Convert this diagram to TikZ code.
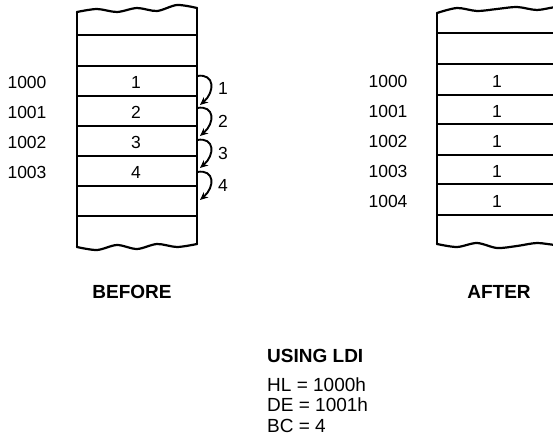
\documentclass[tikz,border=0pt]{standalone}
\usepackage{fontspec}
\setmainfont{Liberation Sans}
\usetikzlibrary{arrows.meta,calc}
\begin{document}
\begin{tikzpicture}[x=1pt,y=-1pt,
  boxline/.style={line width=2.2pt, line join=round, line cap=round},
  rowline/.style={line width=1.8pt},
  lbl/.style={font=\fontsize{17.5}{20}\selectfont, inner sep=0pt},
  ttl/.style={font=\fontsize{19}{22}\selectfont\bfseries, inner sep=0pt},
  reg/.style={font=\fontsize{19}{21}\selectfont, inner sep=0pt, anchor=base west},
  mv/.style={line width=1.9pt, -{Stealth[length=8pt,width=7pt]}}]
\useasboundingbox (0,0) rectangle (553,435);
\clip (0,0) rectangle (553,435);
% ---- left (BEFORE) memory box
\draw[boxline] plot[smooth] coordinates {(77,12)(97,9)(117,12)(137,8)(157,11)(177,5)(197,8)};
\draw[boxline] plot[smooth] coordinates {(77,247)(97,250)(117,245)(137,249)(157,244)(177,247)(197,244)};
\draw[boxline] (77,12) -- (77,247);
\draw[boxline] (197,8) -- (197,244);
\foreach \y in {35,66,96,126,156,186,216} \draw[rowline] (77,\y) -- (197,\y);
% ---- right (AFTER) memory box
\draw[boxline] plot[smooth] coordinates {(437,13)(457,8)(477,11)(497,9)(517,7)(537,10)(557,7)(577,9)};
\draw[boxline] plot[smooth] coordinates {(437,244)(457,247)(477,243)(497,248)(517,246)(537,243)(557,245)(577,243)};
\draw[boxline] (437,13) -- (437,244);
\draw[boxline] (557,8) -- (557,244);
\foreach \y in {33,64,95,124,155,184,215} \draw[rowline] (437,\y) -- (557,\y);
% ---- left labels and values
\node[lbl] (la0) at (27,82) {1000};
\node[lbl] (la1) at (27,112) {1001};
\node[lbl] (la2) at (27,142) {1002};
\node[lbl] (la3) at (27,172) {1003};
\node[lbl] (lv0) at (136,82) {1};
\node[lbl] (lv1) at (136,112) {2};
\node[lbl] (lv2) at (136,142) {3};
\node[lbl] (lv3) at (136,172) {4};
% ---- move arrows
\coordinate (s1) at (197,76);  \coordinate (e1) at (200,105);
\coordinate (s2) at (197,108); \coordinate (e2) at (200,136);
\coordinate (s3) at (197,140); \coordinate (e3) at (200,168);
\coordinate (s4) at (197,172); \coordinate (e4) at (200,200);
\foreach \i in {1,2,3,4} {
  \draw[mv] (s\i) .. controls ($(s\i)+(18,-3)$) and ($(e\i)+(15,-13)$) .. (e\i);
}
\node[lbl] (n1) at (223,88) {1};
\node[lbl] (n2) at (223,121) {2};
\node[lbl] (n3) at (223,153) {3};
\node[lbl] (n4) at (223,185) {4};
% ---- right labels and values
\node[lbl] (ra0) at (388,81) {1000};
\node[lbl] (ra1) at (388,111) {1001};
\node[lbl] (ra2) at (388,141) {1002};
\node[lbl] (ra3) at (388,171) {1003};
\node[lbl] (ra4) at (388,201) {1004};
\foreach \y/\n in {81/0,111/1,141/2,171/3,201/4} \node[lbl] (rv\n) at (497,\y) {1};
% ---- titles
\node[ttl] (before) at (132,292) {BEFORE};
\node[ttl] (after) at (499,292) {AFTER};
% ---- register block
\node[ttl, anchor=base west] (using) at (267,362) {USING LDI};
\node[reg] (hl) at (267,391.5) {HL = 1000h};
\node[reg] (de) at (267,411.5) {DE = 1001h};
\node[reg] (bc) at (267,432) {BC = 4};
\end{tikzpicture}
\end{document}
